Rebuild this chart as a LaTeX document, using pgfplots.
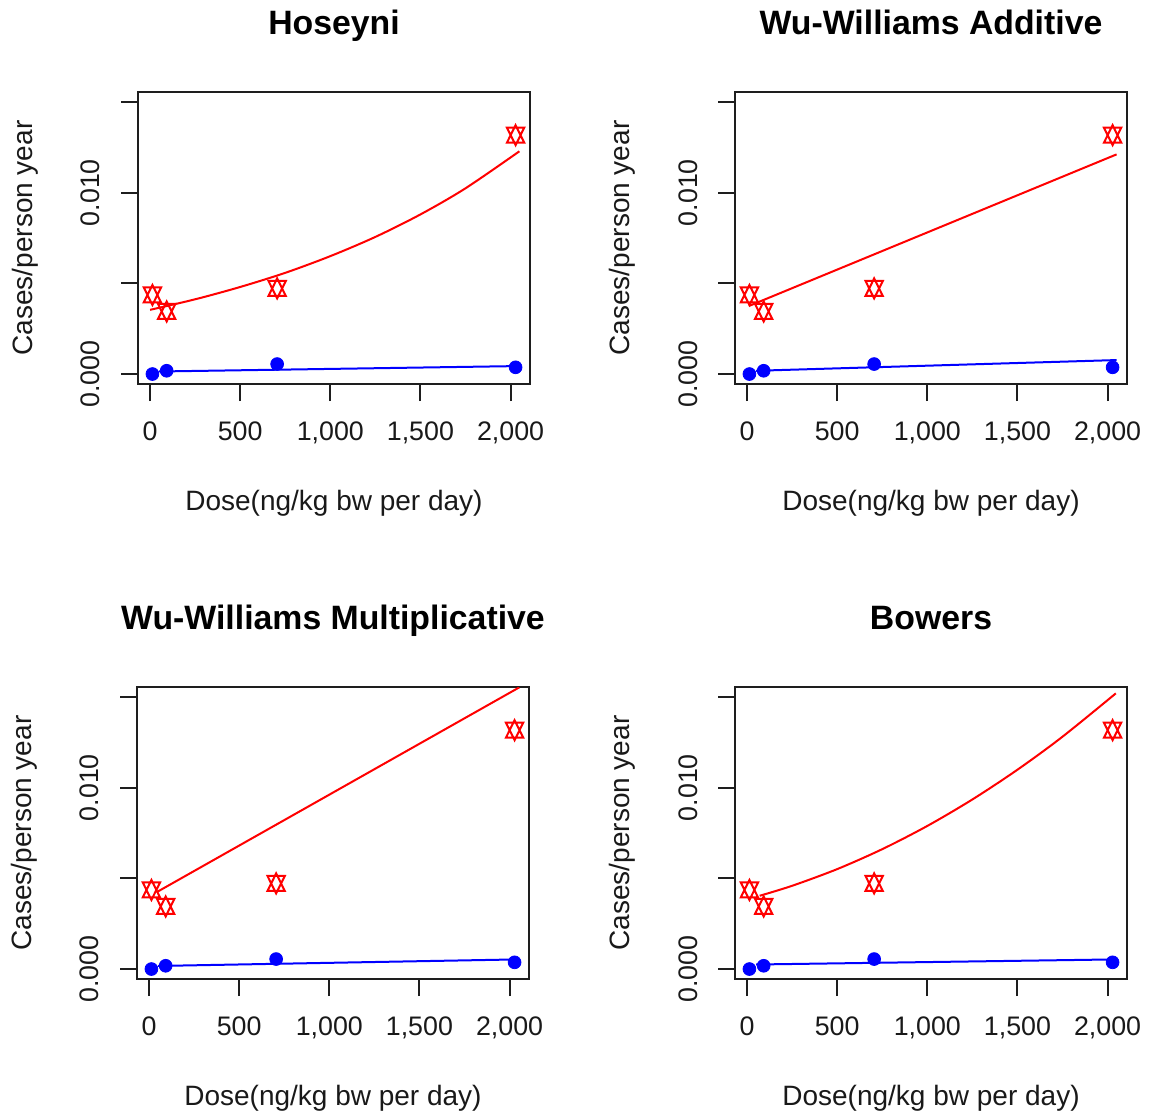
\documentclass[border=0pt]{standalone}
\usepackage{fontspec}
\setmainfont{Liberation Sans}
\usepackage{pgfplots}
\pgfplotsset{compat=1.18}
\definecolor{rred}{RGB}{255,0,0}
\definecolor{rblue}{RGB}{0,0,255}
\definecolor{boxgray}{HTML}{1E1E1E}

% R's pch 11: triangle up over triangle down
\pgfdeclareplotmark{rstar}{%
  \pgfpathmoveto{\pgfqpoint{0pt}{\pgfplotmarksize}}%
  \pgfpathlineto{\pgfqpoint{0.866\pgfplotmarksize}{-0.75\pgfplotmarksize}}%
  \pgfpathlineto{\pgfqpoint{-0.866\pgfplotmarksize}{-0.75\pgfplotmarksize}}%
  \pgfpathclose
  \pgfpathmoveto{\pgfqpoint{0pt}{-\pgfplotmarksize}}%
  \pgfpathlineto{\pgfqpoint{0.866\pgfplotmarksize}{0.75\pgfplotmarksize}}%
  \pgfpathlineto{\pgfqpoint{-0.866\pgfplotmarksize}{0.75\pgfplotmarksize}}%
  \pgfpathclose
  \pgfusepathqstroke}

\pgfplotsset{
  rpanel/.style={
    scale only axis, width=196pt, height=146pt,
    anchor=north west,
    xmin=-67, xmax=2108, ymin=-0.00055, ymax=0.01555,
    axis line style={boxgray, line width=1pt},
    tick style={boxgray, line width=1pt},
    tick align=outside, major tick length=8.5pt,
    xtick pos=left, ytick pos=left,
    xtick={0,500,1000,1500,2000},
    xticklabels={0,500,{1,000},{1,500},{2,000}},
    ytick={0,0.005,0.01,0.015},
    yticklabels={0.000,,0.010,},
    scaled y ticks=false,
    tick label style={font=\fontsize{13.4}{15}\selectfont, text=black!90},
    xticklabel style={anchor=base, yshift=-19.5pt},
    yticklabel style={xshift=-10.5pt, rotate=90, anchor=base},
    label style={font=\fontsize{14}{16}\selectfont, text=black!90},
    xlabel={Dose(ng/kg bw per day)},
    ylabel={Cases/person year},
    xlabel style={at={(axis description cs:0.5,-0.4315)}, anchor=base},
    ylabel style={at={(axis description cs:-0.268,0.5)}, anchor=base},
    title style={at={(axis description cs:0.5,1.157)}, anchor=base,
      font=\bfseries\fontsize{16.9}{19}\selectfont},
  },
  fitred/.style={rred, line width=1pt, no marks, smooth},
  fitblue/.style={rblue, line width=1pt, no marks},
  obsred/.style={only marks, mark=rstar, mark size=5pt,
    mark options={rred, line width=1pt}},
  obsblue/.style={only marks, mark=*, mark size=3.2pt,
    mark options={draw=rblue, fill=rblue}},
}

% observed rates, same in all four panels
\pgfplotstableread{
dose  rate
13    0.00436
92    0.00345
705   0.00472
2028  0.01317
}\obsA
\pgfplotstableread{
dose  rate
13    0.00000
92    0.00018
705   0.00055
2028  0.00037
}\obsB

\begin{document}
\begin{tikzpicture}
\useasboundingbox (0,0) rectangle (578pt,-557.5pt);

% Hoseyni
\begin{axis}[rpanel, at={(69pt,-46pt)}, title={Hoseyni}]
\addplot[fitred] coordinates {(0,0.00354) (250,0.00412) (500,0.00480)
  (750,0.00558) (1000,0.00650) (1250,0.00756) (1500,0.00880)
  (1750,0.01024) (2049,0.01228)};
\addplot[fitblue] coordinates {(50,0.00014) (2049,0.00044)};
\addplot[obsred] table[x=dose, y=rate] {\obsA};
\addplot[obsblue] table[x=dose, y=rate] {\obsB};
\end{axis}

% Wu-Williams Additive
\begin{axis}[rpanel, at={(367.5pt,-46pt)}, title={Wu-Williams Additive}]
\addplot[fitred] coordinates {(10,0.00375) (2050,0.01211)};
\addplot[fitblue] coordinates {(50,0.00018) (2050,0.00077)};
\addplot[obsred] table[x=dose, y=rate] {\obsA};
\addplot[obsblue] table[x=dose, y=rate] {\obsB};
\end{axis}

% Wu-Williams Multiplicative
\begin{axis}[rpanel, at={(68.5pt,-343.5pt)}, title={Wu-Williams Multiplicative}]
\addplot[fitred] coordinates {(46,0.00426) (2054,0.01553)};
\addplot[fitblue] coordinates {(50,0.00017) (2040,0.00053)};
\addplot[obsred] table[x=dose, y=rate] {\obsA};
\addplot[obsblue] table[x=dose, y=rate] {\obsB};
\end{axis}

% Bowers
\begin{axis}[rpanel, at={(367.5pt,-343.5pt)}, title={Bowers}]
\addplot[fitred] coordinates {(70,0.00404) (250,0.00459) (500,0.00551)
  (750,0.00661) (1000,0.00789) (1250,0.00935) (1500,0.01099)
  (1750,0.01281) (2046,0.01520)};
\addplot[fitblue] coordinates {(50,0.00025) (2040,0.00053)};
\addplot[obsred] table[x=dose, y=rate] {\obsA};
\addplot[obsblue] table[x=dose, y=rate] {\obsB};
\end{axis}
\end{tikzpicture}
\end{document}
